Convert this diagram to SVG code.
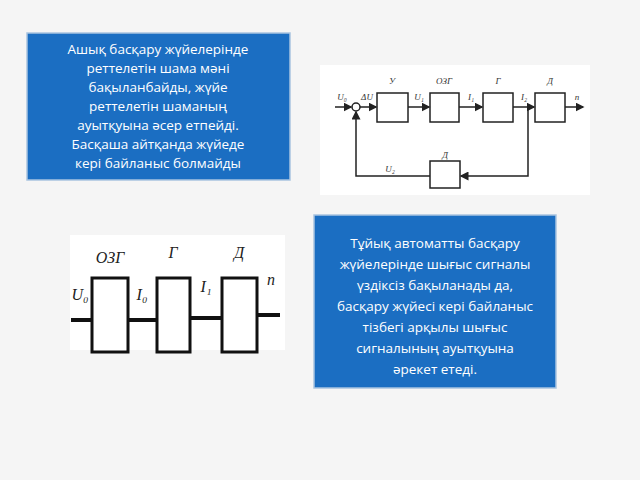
<svg xmlns="http://www.w3.org/2000/svg" width="640" height="480" viewBox="0 0 640 480">
<defs>
<style>
.box{fill:#1b6ec2;stroke:#a9c4e0;stroke-width:1.5}
.t{font-family:"Open Sans","DejaVu Sans",sans-serif;font-size:13.5px;fill:#fff;text-anchor:middle}
.b{fill:#fff;stroke:#222;stroke-width:1.5}
.bb{fill:#fff;stroke:#111;stroke-width:3}
.l{stroke:#222;stroke-width:1.5;fill:none}
.lb{stroke:#111;stroke-width:4;fill:none}
.s{font-family:"Liberation Serif",serif;font-style:italic;font-size:9px;fill:#333;text-anchor:middle}
.sb{font-family:"Liberation Serif",serif;font-style:italic;font-size:16px;fill:#222;text-anchor:middle}
</style>
<marker id="a" markerWidth="6" markerHeight="6" refX="5" refY="3" orient="auto"><path d="M0,0L6,3L0,6z" fill="#222"/></marker>
</defs>
<rect width="640" height="480" fill="#f5f5f5"/>
<g id="text1">
<rect class="box" x="27" y="33" width="263" height="147"/>
<text class="t" x="158" y="54">Ашық басқару жүйелерінде</text>
<text class="t" x="158" y="73">реттелетін шама мәні</text>
<text class="t" x="158" y="92">бақыланбайды, жүйе</text>
<text class="t" x="158" y="111">реттелетін шаманың</text>
<text class="t" x="158" y="130">ауытқуына әсер етпейді.</text>
<text class="t" x="158" y="149">Басқаша айтқанда жүйеде</text>
<text class="t" x="158" y="168">кері байланыс болмайды</text>
</g>
<g id="text2">
<rect class="box" x="314" y="215" width="242" height="173"/>
<text class="t" x="435" y="248">Тұйық автоматты басқару</text>
<text class="t" x="435" y="269">жүйелерінде шығыс сигналы</text>
<text class="t" x="435" y="290">үздіксіз бақыланады да,</text>
<text class="t" x="435" y="311">басқару жүйесі кері байланыс</text>
<text class="t" x="435" y="332">тізбегі арқылы шығыс</text>
<text class="t" x="435" y="353">сигналының ауытқуына</text>
<text class="t" x="435" y="374">әрекет етеді.</text>
</g>
<g id="diagram1">
<rect x="320" y="65" width="270" height="130" fill="#fff"/>
<circle cx="356" cy="107" r="4" fill="#fff" stroke="#222" stroke-width="1.5"/>
<g id="u"><rect class="b" x="377" y="93" width="31" height="29"/><text class="s" x="392" y="84">У</text></g>
<g id="ozg"><rect class="b" x="430" y="93" width="29" height="29"/><text class="s" x="444" y="84">ОЗГ</text></g>
<g id="g"><rect class="b" x="483" y="93" width="30" height="29"/><text class="s" x="498" y="84">Г</text></g>
<g id="d"><rect class="b" x="535" y="93" width="30" height="29"/><text class="s" x="550" y="84">Д</text></g>
<g id="fb"><rect class="b" x="430" y="161" width="30" height="27"/><text class="s" x="445" y="158">Д</text></g>
<g id="conn1">
<path class="l" d="M335,107H351" marker-end="url(#a)"/>
<path class="l" d="M360,107H376" marker-end="url(#a)"/>
<path class="l" d="M408,107H429" marker-end="url(#a)"/>
<path class="l" d="M459,107H482" marker-end="url(#a)"/>
<path class="l" d="M513,107H534" marker-end="url(#a)"/>
<path class="l" d="M565,107H583" marker-end="url(#a)"/>
<path class="l" d="M528,107V176H461" marker-end="url(#a)"/>
<path class="l" d="M430,176H356V112" marker-end="url(#a)"/>
</g>
<text class="s" x="342" y="100">U₀</text>
<text class="s" x="367" y="100">ΔU</text>
<text class="s" x="419" y="100">U₁</text>
<text class="s" x="471" y="100">I₁</text>
<text class="s" x="524" y="100">I₂</text>
<text class="s" x="577" y="100">n</text>
<text class="s" x="390" y="172">U₂</text>
</g>
<g id="diagram2">
<rect x="70" y="235" width="215" height="115" fill="#fff"/>
<g id="ozg2"><rect class="bb" x="92" y="278" width="36" height="74"/><text class="sb" x="110" y="263">ОЗГ</text></g>
<g id="g2"><rect class="bb" x="157" y="278" width="33" height="74"/><text class="sb" x="173" y="258">Г</text></g>
<g id="d2"><rect class="bb" x="222" y="278" width="35" height="74"/><text class="sb" x="239" y="258">Д</text></g>
<g id="conn2">
<path class="lb" d="M71,320H92"/>
<path class="lb" d="M128,320H157"/>
<path class="lb" d="M190,318H222"/>
<path class="lb" d="M257,315H280"/>
</g>
<text class="sb" x="80" y="300">U₀</text>
<text class="sb" x="142" y="300">I₀</text>
<text class="sb" x="206" y="292">I₁</text>
<text class="sb" x="271" y="285">n</text>
</g>
</svg>
